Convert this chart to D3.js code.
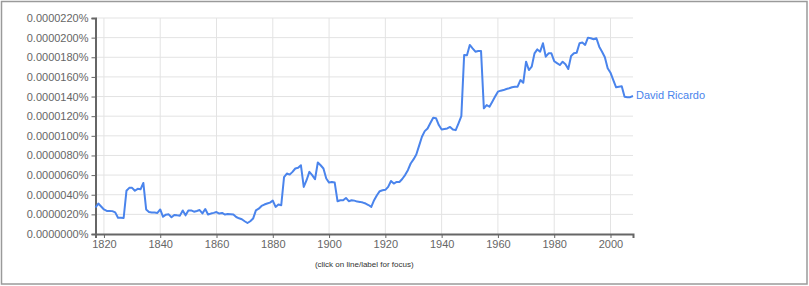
<!DOCTYPE html>
<html>
<head>
<meta charset="utf-8">
<script src="https://cdn.jsdelivr.net/npm/d3@7"></script>
<style>
  body { margin: 0; background: #fff; }
  svg text { font-family: Arial, "Liberation Sans", sans-serif; }
</style>
</head>
<body>
<div id="my_dataviz"></div>
<script>
// series name and first / last year of the series
const seriesName = "David Ricardo"
const firstYear = 1817
const lastYear = 2008

// yearly frequency, in units of 0.0000001 %
const values1810s = [27, 31, 28]
const values1820s = [25, 23.5, 23.5, 23.3, 22, 16.5, 16.5, 16.3, 44, 47]
const values1830s = [47, 44, 46, 45.5, 52, 25, 22.5, 22, 21.8, 21.5]
const values1840s = [25, 17.5, 19.7, 20, 17, 19.4, 19, 18.7, 24, 19]
const values1850s = [24, 24, 22.7, 23.5, 24.4, 21, 25.4, 19.8, 20.8, 21.5]
const values1860s = [22.4, 20.8, 21.4, 19.8, 20.4, 20.2, 19.8, 17.3, 16, 15]
const values1870s = [13, 11.2, 13, 15.7, 24, 25.8, 28.6, 30, 31, 32]
const values1880s = [34, 27.6, 30, 29.3, 58, 61.6, 60.5, 63.3, 66.7, 67.4]
const values1890s = [70, 48, 54.8, 63.3, 60, 55.8, 72.8, 70, 66.7, 56.5]
const values1900s = [52.4, 53, 52.4, 33.4, 34.4, 34.4, 36.7, 33.4, 34.4, 34]
const values1910s = [33, 32.7, 32, 31, 29.5, 27.6, 34.4, 39.5, 43.6, 44.6]
const values1920s = [45, 48, 54, 51.4, 53, 53, 56, 60, 65, 71.8]
const values1930s = [76, 81, 90, 99, 104.8, 107.5, 113, 118.4, 118, 111]
const values1940s = [106.5, 107, 107.5, 109, 106.5, 105.8, 112.7, 120, 182.3, 182]
const values1950s = [192.6, 189, 185.7, 186.4, 186.4, 128, 131.3, 129.6, 134.7, 140]
const values1960s = [145, 146, 146.6, 147.7, 148.4, 149.4, 150, 150, 156.8, 154]
const values1970s = [175.5, 167, 170.4, 184, 188, 185.7, 194.3, 180.6, 184, 184]
const values1980s = [176, 174, 172.1, 175.5, 173, 168, 181.3, 184, 184.7, 194.3]
const values1990s = [195, 192.6, 200, 199.4, 198.4, 199.4, 190.8, 185.7, 180, 168.8]
const values2000s = [164.3, 156.8, 149.4, 150, 150.6, 139.8, 139.4, 139.4, 140.5]

// axis ticks
const yTicks = [0, 20, 40, 60, 80, 100, 120, 140, 160, 180, 200, 220]
const xTicks = [1820, 1840, 1860, 1880, 1900, 1920, 1940, 1960, 1980, 2000]

const values = [].concat(values1810s, values1820s, values1830s, values1840s,
  values1850s, values1860s, values1870s, values1880s, values1890s, values1900s,
  values1910s, values1920s, values1930s, values1940s, values1950s, values1960s,
  values1970s, values1980s, values1990s, values2000s)
const data = d3.range(firstYear, lastYear + 1).map((year, i) => ({ year: year, value: values[i] }))

const lineColor = "#4a84ec"
const W = 809, H = 286
const margin = { top: 18, right: 176, bottom: 52, left: 95.5 }
const width = W - margin.left - margin.right
const height = H - margin.top - margin.bottom

const svg = d3.select("#my_dataviz")
  .append("svg")
  .attr("width", W)
  .attr("height", H)

// outer frame
svg.append("rect")
  .attr("x", 1.5).attr("y", 1.5)
  .attr("width", W - 3.5).attr("height", H - 3.5)
  .attr("fill", "none")
  .attr("stroke", "#9a9a9a")
  .attr("stroke-width", 1.5)

const g = svg.append("g")
  .attr("transform", `translate(${margin.left},${margin.top})`)

const x = d3.scaleLinear()
  .domain([firstYear, lastYear])
  .range([0, width])

const y = d3.scaleLinear()
  .domain([0, 220])
  .range([height, 0])

// grid
g.append("g")
  .selectAll("line")
  .data(yTicks.slice(1))
  .join("line")
  .attr("x1", 0).attr("x2", width)
  .attr("y1", d => y(d)).attr("y2", d => y(d))
  .attr("stroke", "#e3e3e3")
g.append("g")
  .selectAll("line")
  .data(xTicks)
  .join("line")
  .attr("x1", d => x(d)).attr("x2", d => x(d))
  .attr("y1", 0).attr("y2", height)
  .attr("stroke", "#e3e3e3")

// Y axis
const yAxis = g.append("g")
  .call(d3.axisLeft(y).tickValues(yTicks).tickSize(4).tickPadding(3)
    .tickFormat(d => (d * 1e-7).toFixed(7) + "%"))
yAxis.select(".domain").attr("stroke", "#666").attr("stroke-width", 2)
yAxis.selectAll(".tick line").attr("stroke", "#666")
yAxis.selectAll("text").attr("fill", "#666").style("font-size", "11px")

// X axis
const xAxis = g.append("g")
  .attr("transform", `translate(0,${height})`)
  .call(d3.axisBottom(x).tickValues(xTicks).tickSize(4).tickPadding(2)
    .tickFormat(d3.format("d")))
xAxis.select(".domain").attr("stroke", "#666").attr("stroke-width", 2)
xAxis.selectAll(".tick line").attr("stroke", "#666")
xAxis.selectAll("text").attr("fill", "#666").style("font-size", "11px")

// line
const line = d3.line()
  .x(d => x(d.year))
  .y(d => y(d.value))
g.append("path")
  .datum(data)
  .attr("fill", "none")
  .attr("stroke", lineColor)
  .attr("stroke-width", 2)
  .attr("stroke-linejoin", "round")
  .attr("d", line)

// series label at the end of the line
const last = data[data.length - 1]
g.append("text")
  .attr("x", x(last.year) + 3)
  .attr("y", y(last.value) - 1)
  .attr("dy", "0.35em")
  .attr("fill", lineColor)
  .style("font-size", "11px")
  .text(seriesName)

// footnote
g.append("text")
  .attr("x", width / 2)
  .attr("y", height + 33)
  .attr("text-anchor", "middle")
  .attr("fill", "#333")
  .style("font-size", "8px")
  .text("(click on line/label for focus)")
</script>
</body>
</html>
